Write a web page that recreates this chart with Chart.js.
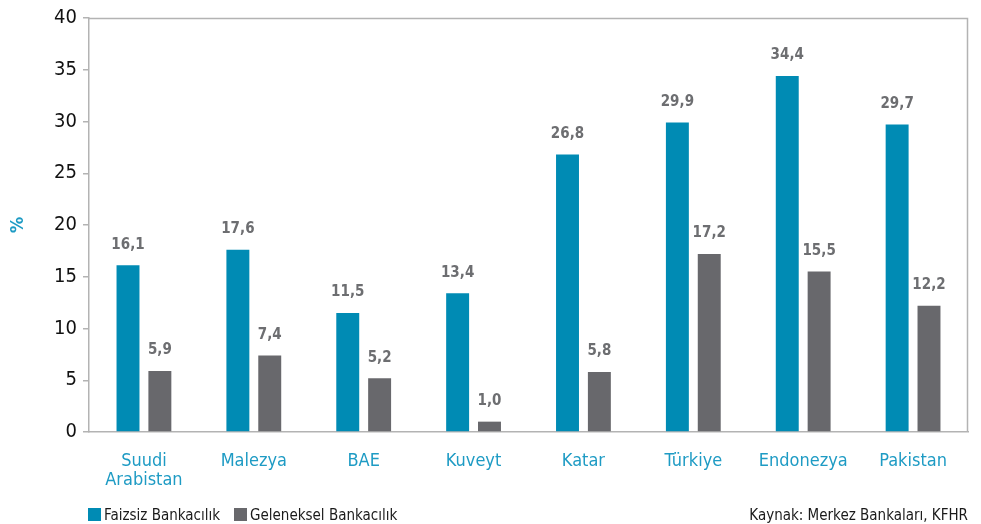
<!DOCTYPE html>
<html>
    <head>
        <script src="https://cdn.jsdelivr.net/npm/chart.js"></script>
        <title>Faizsiz Bankacılık</title>
        <style>
            body { margin: 0; background: #fff; font-family: "DejaVu Sans Condensed", "Liberation Sans Narrow", sans-serif; }
            #chartWrapper { position: relative; width: 981px; height: 524px; }
            .legend { position: absolute; left: 88px; top: 506px; font-size: 15px; color: #1a1a1a; display: flex; gap: 14px; }
            .legend span.box { display: inline-block; width: 13px; height: 13px; margin-right: 3px; vertical-align: -1px; }
            .source { position: absolute; right: 13px; top: 506px; font-size: 15px; color: #1a1a1a; }
        </style>
    </head>
    <body>
        <div id="chartWrapper">
            <canvas id="myChart" width="981" height="524"></canvas>
            <div class="legend">
                <div><span class="box" style="background:#008bb4"></span>Faizsiz Bankacılık</div>
                <div><span class="box" style="background:#68686c"></span>Geleneksel Bankacılık</div>
            </div>
            <div class="source">Kaynak: Merkez Bankaları, KFHR</div>
        </div>

        <script>
            const categories = [["Suudi", "Arabistan"], "Malezya", "BAE", "Kuveyt", "Katar", "Türkiye", "Endonezya", "Pakistan"];
            const faizsiz = [16.1, 17.6, 11.5, 13.4, 26.8, 29.9, 34.4, 29.7];
            const geleneksel = [5.9, 7.4, 5.2, 1.0, 5.8, 17.2, 15.5, 12.2];
            const yTicks = [0, 5, 10, 15, 20, 25, 30, 35, 40];

            const fontFamily = '"DejaVu Sans Condensed", "Liberation Sans Narrow", sans-serif';

            // value labels above bars + frame around plot
            const barLabels = {
                id: 'barLabels',
                afterDatasetsDraw(chart) {
                    const ctx = chart.ctx;
                    ctx.save();
                    ctx.font = 'bold 15px ' + fontFamily;
                    ctx.fillStyle = '#6d6e71';
                    ctx.textAlign = 'center';
                    ctx.textBaseline = 'bottom';
                    chart.data.datasets.forEach((ds, i) => {
                        chart.getDatasetMeta(i).data.forEach((bar, j) => {
                            ctx.fillText(ds.data[j].toFixed(1).replace('.', ','), bar.x, bar.y - 13);
                        });
                    });
                    const a = chart.chartArea;
                    ctx.strokeStyle = '#b3b3b3';
                    ctx.lineWidth = 1.5;
                    ctx.beginPath();
                    ctx.moveTo(a.left, a.top + 0.5);
                    ctx.lineTo(a.right - 0.5, a.top + 0.5);
                    ctx.lineTo(a.right - 0.5, a.bottom);
                    ctx.stroke();
                    ctx.restore();
                }
            };

            const ctx = document.getElementById('myChart').getContext('2d');

            const myChart = new Chart(ctx, {
                type: 'bar',
                plugins: [barLabels],
                data: {
                    labels: categories,
                    datasets: [
                        {
                            label: 'Faizsiz Bankacılık',
                            data: faizsiz,
                            backgroundColor: '#008bb4',
                            categoryPercentage: 0.58,
                            barPercentage: 0.72
                        },
                        {
                            label: 'Geleneksel Bankacılık',
                            data: geleneksel,
                            backgroundColor: '#68686c',
                            categoryPercentage: 0.58,
                            barPercentage: 0.72
                        }
                    ]
                },
                options: {
                    responsive: false,
                    animation: false,
                    layout: { padding: { top: 16, right: 13, bottom: 0, left: 0 } },
                    plugins: {
                        legend: { display: false },
                        tooltip: { enabled: false }
                    },
                    scales: {
                        x: {
                            grid: { display: false },
                            border: { display: true, color: '#b3b3b3', width: 1.5 },
                            ticks: {
                                color: '#1e9bc4',
                                padding: 11,
                                font: { family: fontFamily, size: 18, lineHeight: 1.1 },
                                maxRotation: 0
                            },
                            afterFit(scale) { scale.height = 92; }
                        },
                        y: {
                            min: 0,
                            max: 40,
                            afterBuildTicks(scale) { scale.ticks = yTicks.map(v => ({ value: v })); },
                            grid: { drawOnChartArea: false, drawTicks: true, tickLength: 6, color: '#b3b3b3', lineWidth: 1.5 },
                            border: { display: true, color: '#b3b3b3', width: 1.5 },
                            ticks: {
                                color: '#111',
                                padding: 6,
                                font: { family: fontFamily, size: 20 }
                            },
                            title: {
                                display: true,
                                text: '%',
                                color: '#1e9bc4',
                                padding: { top: 8, bottom: 0 },
                                font: { family: fontFamily, size: 18, weight: 'bold' }
                            },
                            afterFit(scale) { scale.width = 89; }
                        }
                    }
                }
            });
        </script>
    </body>
</html>
